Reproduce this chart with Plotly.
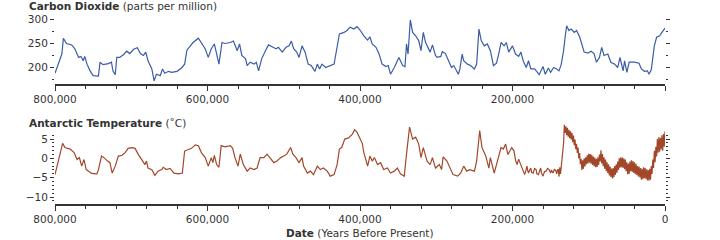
import plotly.graph_objects as go

# ---------------- data ----------------
co2_age_ka = [800, 796, 791, 789, 785, 778, 774, 769, 766, 763, 761, 758, 754, 750, 743, 741, 737, 730, 726, 724,
              721, 719, 715, 710, 706, 702, 697, 692, 688, 684, 681, 678, 673, 670, 667, 662, 659, 656, 651, 647,
              640, 634, 630, 627, 623, 619, 612, 608, 603, 599, 595, 591, 588, 585, 581, 577, 570, 566, 561, 558,
              555, 550, 548, 544, 539, 536, 533, 529, 524, 520, 514, 510, 507, 502, 497, 493, 490, 487, 483, 480,
              476, 472, 468, 464, 459, 456, 453, 450, 445, 439, 434, 432, 427, 421, 417, 413, 408, 404, 400, 395,
              390, 387, 384, 379, 375, 371, 366, 363, 360, 355, 349, 344, 341, 339, 337, 334, 331, 327, 323, 320,
              317, 314, 311, 308, 305, 301, 299, 294, 292, 288, 283, 280, 277, 274, 271, 269, 266, 264, 259, 255,
              250, 247, 244, 241, 237, 233, 229, 225, 221, 218, 215, 211, 208, 205, 200, 196, 192, 189, 186, 182,
              179, 176, 171, 165, 160, 157, 153, 150, 146, 142, 139, 136, 133, 131, 129, 126, 123, 119, 116, 112,
              109, 106, 101, 97, 93, 90, 86, 83, 80, 75, 71, 66, 62, 59, 55, 53, 50, 47, 40, 34,
              31, 27, 23, 21, 18, 16, 14, 11, 7, 4, 1, 0]
co2_ppm = [187, 206, 227, 260, 249, 246, 238, 220, 222, 213, 222, 206, 192, 182, 181, 210, 205, 207, 210, 192,
           184, 220, 220, 226, 233, 228, 237, 240, 228, 224, 231, 213, 196, 171, 185, 182, 196, 187, 191, 189,
           191, 198, 206, 235, 242, 251, 260, 251, 238, 220, 238, 248, 224, 206, 251, 249, 251, 254, 234, 248,
           224, 217, 203, 210, 206, 210, 192, 217, 234, 246, 241, 238, 241, 231, 241, 244, 254, 238, 231, 220,
           244, 231, 206, 203, 191, 206, 196, 206, 199, 203, 206, 224, 269, 272, 276, 283, 279, 284, 277, 265,
           256, 263, 248, 241, 227, 206, 201, 203, 185, 199, 220, 203, 201, 248, 227, 298, 272, 265, 255, 234,
           272, 251, 241, 231, 246, 224, 220, 222, 232, 228, 210, 199, 203, 193, 185, 196, 227, 213, 206, 203,
           196, 206, 279, 255, 244, 248, 234, 203, 208, 228, 251, 244, 251, 231, 244, 227, 222, 231, 213, 199,
           213, 196, 196, 184, 201, 185, 198, 189, 199, 196, 192, 206, 234, 262, 286, 276, 279, 272, 276, 263,
           244, 231, 229, 233, 228, 210, 220, 241, 224, 227, 210, 206, 199, 220, 192, 213, 189, 210, 210, 208,
           196, 191, 192, 185, 194, 220, 244, 262, 265, 272, 279, 281]

temp_age_ka = [800, 796, 790, 787, 780, 775, 771, 768, 765, 762, 759, 756, 752, 745, 743, 739, 736, 731, 728, 725,
               721, 717, 712, 708, 704, 699, 695, 691, 686, 682, 680, 678, 673, 669, 665, 660, 658, 654, 649, 644,
               638, 633, 630, 625, 621, 616, 612, 608, 603, 599, 595, 593, 591, 588, 585, 582, 577, 570, 567, 564,
               560, 557, 553, 548, 544, 539, 535, 531, 526, 522, 518, 513, 509, 504, 500, 496, 491, 488, 484, 480,
               476, 474, 469, 465, 461, 456, 452, 448, 443, 439, 434, 430, 427, 424, 420, 415, 410, 407, 404, 401,
               397, 395, 390, 387, 384, 381, 377, 373, 369, 364, 360, 355, 351, 347, 342, 339, 335, 331, 327, 323,
               320, 317, 312, 308, 305, 301, 296, 293, 291, 286, 282, 278, 272, 268, 264, 260, 256, 250, 247, 243,
               240, 235, 231, 229, 224, 221, 215, 212, 209, 206, 204, 201, 198, 196, 194, 192, 191, 189, 188, 186,
               184, 182, 181, 180, 179, 177, 176, 175, 173, 171, 169, 168, 166, 164, 163, 162, 160, 158, 156, 154,
               152, 150, 149, 147, 145, 143, 142, 141,
               140, 139, 138, 137, 136, 135, 134, 133, 132, 131, 130, 129, 128, 127, 126, 125, 124, 123, 122, 121,
               120, 119, 118, 117, 116, 115, 114, 113, 112, 111, 110, 109, 108, 107, 106, 105, 104, 103, 102, 101,
               100, 99, 98, 97, 96, 95, 94, 93, 92, 91, 90, 89, 88, 87, 86, 85, 84, 83, 82, 81,
               80, 79, 78, 77, 76, 75, 74, 73, 72, 71, 70, 69, 68, 67, 66, 65, 64, 63, 62, 61,
               60, 59, 58, 57, 56, 55, 54, 53, 52, 51, 50, 49, 48, 47, 46, 45, 44, 43, 42, 41,
               40, 39, 38, 37, 36, 35, 34, 33, 32, 31, 30, 29, 28, 27, 26, 25, 24, 23, 22, 21,
               20, 19, 18, 17, 16, 15, 14, 13, 12, 11, 10, 9, 8, 7, 6, 5, 4, 3, 2, 1, 0]
temp_c = [-4.2, -0.7, 3.9, 2.8, 2.4, 1.5, -0.3, 0.2, -2.0, -0.3, -2.9, -3.3, -3.9, -4.0, -2.9, 0.6, 0.2, -0.7, -1.1, -3.8,
          -2.0, 0.6, 0.8, 1.5, 2.6, 2.8, 2.6, 1.1, -0.3, -1.6, -0.7, -2.5, -2.9, -4.4, -3.3, -2.9, -2.3, -2.9, -2.6, -3.8,
          -4.0, -3.8, 1.9, 2.4, 2.6, 3.5, 3.3, 1.5, 0.2, -2.0, 0.2, -1.1, 0.8, -1.6, -2.3, 3.3, 3.0, 3.3, 2.6, 0.2,
          -2.0, 1.1, -1.6, -3.3, -2.5, -2.9, -2.5, 0.2, 0.2, 1.1, 0.2, -1.1, -0.7, 0.2, 0.6, 1.1, 2.8, 1.1, 0.2, -1.1,
          0.2, -2.0, -3.8, -3.3, -4.2, -2.0, -2.9, -2.5, -3.3, -4.6, -4.2, -1.6, 2.4, 2.8, 5.0, 5.3, 6.3, 7.4, 6.8, 5.5,
          3.9, 1.5, -2.0, 0.6, -0.7, 0.2, -1.6, -1.1, -2.9, -2.5, -3.8, -3.3, -2.5, -4.0, -4.6, 1.1, 8.1, 5.0, 5.5, 3.7,
          0.2, 2.8, -0.7, -1.6, 0.2, -2.5, -1.6, -2.9, 0.4, -0.7, -2.5, -4.2, -4.6, -3.8, -2.0, -3.3, -2.9, -3.3, -0.7, 7.2,
          2.8, 0.6, -2.5, 0.2, -3.8, -1.6, 2.8, 2.4, 3.7, 1.0, 1.8, 2.8, 1.9, -0.5, -1.6, -0.2, -0.7, -1.8, -2.5, -3.2,
          -4.2, -2.8, -2.0, -3.2, -3.8, -2.8, -2.5, -3.6, -3.8, -2.6, -2.9, -4.0, -4.2, -3.0, -2.5, -3.8, -4.6, -3.4, -3.3, -2.6,
          -2.9, -3.8, -3.0, -3.8, -2.8, -3.3, -4.0, -3.0,
          -2.9, -4.7, -2.3, -4.0, -2.2, -1.3, 1.5, 4.0, 8.7, 6.6, 8.3, 6.0, 7.9, 5.6, 7.4, 5.2, 7.0, 4.9, 6.6, 4.2,
          5.9, 3.4, 4.9, 2.4, 3.8, 1.4, 2.8, 0.0, 1.4, -1.5, -0.1, -3.0, -0.5, -2.7, 0.0, -2.1, 0.3, -1.5, 0.8, -1.3,
          1.2, -1.1, 1.1, -1.4, 0.9, -1.7, 0.5, -2.0, 0.2, -2.3, -0.1, -2.2, 0.3, -1.7, 1.0, -0.8, 2.1, -1.3, 1.1, -2.0,
          0.3, -2.7, -0.3, -3.3, -1.0, -3.8, -1.5, -4.4, -2.1, -4.8, -2.6, -5.2, -2.5, -4.9, -2.0, -4.3, -1.5, -3.7, -0.8, -3.0,
          0.0, -2.4, 0.3, -2.3, 0.2, -2.5, 0.0, -2.8, -0.3, -3.3, -1.0, -4.1, -1.3, -4.0, -0.8, -3.3, -0.5, -3.5, -0.7, -3.8,
          -1.0, -4.1, -1.4, -4.3, -2.0, -4.7, -2.1, -4.9, -2.5, -5.5, -2.7, -5.4, -2.3, -5.1, -2.5, -5.3, -2.8, -5.7, -3.0, -5.8,
          -2.7, -5.5, -2.0, -4.0, -0.3, -2.5, 2.0, -1.0, 3.0, 0.5, 5.0, 1.5, 5.5, 1.7, 5.3, 2.3, 6.0, 2.0, 6.3, 3.0, 7.0]

x_tick_vals = [800000, 600000, 400000, 200000, 0]
x_tick_text_top = ["800,000", "600,000", "400,000", "200,000", ""]
x_tick_text_bottom = ["800,000", "600,000", "400,000", "200,000", "0"]
co2_tick_vals = [200, 250, 300]
co2_minor_vals = [175, 225, 275]
temp_tick_vals = [-10, -5, 0, 5]
temp_minor_vals = [-11, -9, -8, -7, -6, -4, -3, -2, -1, 1, 2, 3, 4, 6]

# ---------------- figure ----------------
W, H = 720, 240
AX = "#333333"
FONT = dict(family="DejaVu Sans", size=10.5, color=AX)

fig = go.Figure()
fig.add_trace(go.Scatter(x=[a * 1000 for a in co2_age_ka], y=co2_ppm, mode="lines",
                         line=dict(color="#3b5ca6", width=1.2), xaxis="x", yaxis="y",
                         showlegend=False, hoverinfo="skip"))
fig.add_trace(go.Scatter(x=[a * 1000 for a in temp_age_ka], y=temp_c, mode="lines",
                         line=dict(color="#a3472b", width=1.2), xaxis="x2", yaxis="y2",
                         showlegend=False, hoverinfo="skip"))

xdom = [55 / W, 665 / W]
common_x = dict(domain=xdom, range=[800000, 0], showline=True, linecolor=AX, linewidth=1.5,
                ticks="outside", ticklen=5, tickwidth=1, tickcolor=AX, tickvals=x_tick_vals,
                showgrid=False, zeroline=False, tickfont=FONT, automargin=False,
                minor=dict(ticks="outside", ticklen=3, tickwidth=1, tickcolor=AX, dtick=40000, tick0=0,
                           showgrid=False))
common_y = dict(showline=False, ticks="outside", ticklen=4, tickwidth=1, tickcolor=AX, mirror="ticks",
                showgrid=False, zeroline=False, tickfont=FONT, automargin=False)

fig.update_layout(
    width=W, height=H, margin=dict(l=0, r=0, t=0, b=0, autoexpand=False),
    paper_bgcolor="white", plot_bgcolor="white", font=FONT,
    xaxis=dict(common_x, anchor="y", ticktext=x_tick_text_top),
    xaxis2=dict(common_x, anchor="y2", ticktext=x_tick_text_bottom),
    yaxis=dict(common_y, anchor="x", domain=[1 - 84 / H, 1 - 19 / H], range=[164.6, 300],
               tickvals=co2_tick_vals,
               minor=dict(ticks="outside", ticklen=2, tickwidth=1, tickcolor=AX, tickvals=co2_minor_vals,
                          showgrid=False)),
    yaxis2=dict(common_y, anchor="x2", domain=[1 - 204 / H, 1 - 124 / H], range=[-11.8, 8.9],
                tickvals=temp_tick_vals,
                minor=dict(ticks="outside", ticklen=2, tickwidth=1, tickcolor=AX, tickvals=temp_minor_vals,
                           showgrid=False)),
    annotations=[
        dict(text="<b>Carbon Dioxide</b> (parts per million)", x=27 / W, y=1 - 6 / H,
             xref="paper", yref="paper", xanchor="left", yanchor="middle", showarrow=False, font=FONT),
        dict(text="<b>Antarctic Temperature</b> (˚C)", x=27 / W, y=1 - 123 / H,
             xref="paper", yref="paper", xanchor="left", yanchor="middle", showarrow=False, font=FONT),
        dict(text="<b>Date</b> (Years Before Present)", x=0.5, y=1 - 233 / H,
             xref="paper", yref="paper", xanchor="center", yanchor="middle", showarrow=False, font=FONT),
    ],
)

fig.write_html("out.html")
